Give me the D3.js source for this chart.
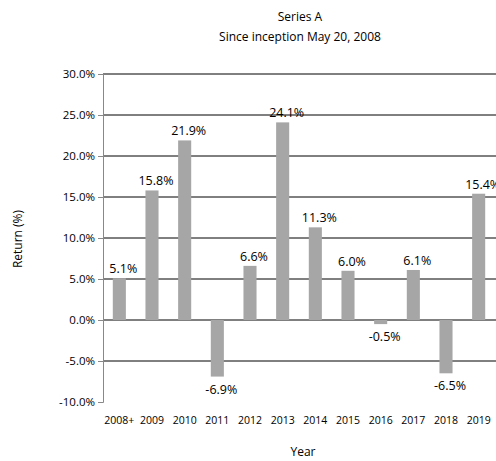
<!DOCTYPE html>
<html><head><meta charset="utf-8">
<script src="https://cdn.jsdelivr.net/npm/d3@7"></script>
<style>body{margin:0;background:#fff}text{font-family:"Open Sans","Liberation Sans",sans-serif}</style>
</head><body>
<script>
var years = ["2008+","2009","2010","2011","2012","2013","2014","2015","2016","2017","2018","2019"];
var returns = [5.1, 15.8, 21.9, -6.9, 6.6, 24.1, 11.3, 6.0, -0.5, 6.1, -6.5, 15.4];
var yTicks = [-10, -5, 0, 5, 10, 15, 20, 25, 30];

var W = 496, H = 461;
var svg = d3.select("body").append("svg").attr("width", W).attr("height", H);

var x = d3.scaleBand().domain(years).range([103, 495]).paddingInner(0.6).paddingOuter(0.3);
var y = d3.scaleLinear().domain([-10, 30]).range([402, 74]);

// gridlines
svg.selectAll("line.grid").data(yTicks.filter(function (d) { return d > -10; }))
  .enter().append("line")
  .attr("x1", 103).attr("x2", W)
  .attr("y1", function (d) { return y(d); }).attr("y2", function (d) { return y(d); })
  .attr("stroke", "#000").attr("stroke-width", 1);

// bars
svg.selectAll("rect").data(returns).enter().append("rect")
  .attr("x", function (d, i) { return x(years[i]); })
  .attr("width", x.bandwidth())
  .attr("y", function (d) { return y(Math.max(0, d)); })
  .attr("height", function (d) { return Math.abs(y(d) - y(0)); })
  .attr("fill", "#a6a6a6");

// y axis
var ya = svg.append("g").attr("transform", "translate(103,0)")
  .call(d3.axisLeft(y).tickValues(yTicks).tickSize(5).tickFormat(function (d) { return d.toFixed(1) + "%"; }));
ya.select(".domain").attr("stroke", "#888");
ya.selectAll(".tick line").attr("stroke", "#888");
ya.selectAll("text").attr("font-size", 11.5).attr("fill", "#000").attr("font-family", "Open Sans");

// x labels
svg.selectAll("text.xl").data(years).enter().append("text")
  .attr("x", function (d) { return x(d) + x.bandwidth() / 2; })
  .attr("y", 424).attr("text-anchor", "middle").attr("font-size", 10.5)
  .text(function (d) { return d; });

// value labels
svg.selectAll("text.vl").data(returns).enter().append("text")
  .attr("x", function (d, i) { return x(years[i]) + x.bandwidth() / 2 + 4; })
  .attr("y", function (d) { return d >= 0 ? y(d) - 5 : y(d) + 17; })
  .attr("text-anchor", "middle").attr("font-size", 12.5)
  .text(function (d) { return d.toFixed(1) + "%"; });

svg.append("text").attr("x", 300).attr("y", 21).attr("text-anchor", "middle").attr("font-size", 12).text("Series A");
svg.append("text").attr("x", 300).attr("y", 41).attr("text-anchor", "middle").attr("font-size", 12).text("Since inception May 20, 2008");
svg.append("text").attr("transform", "translate(22,239) rotate(-90)").attr("text-anchor", "middle").attr("font-size", 12).text("Return (%)");
svg.append("text").attr("x", 303).attr("y", 456).attr("text-anchor", "middle").attr("font-size", 12).text("Year");
</script>
</body></html>
